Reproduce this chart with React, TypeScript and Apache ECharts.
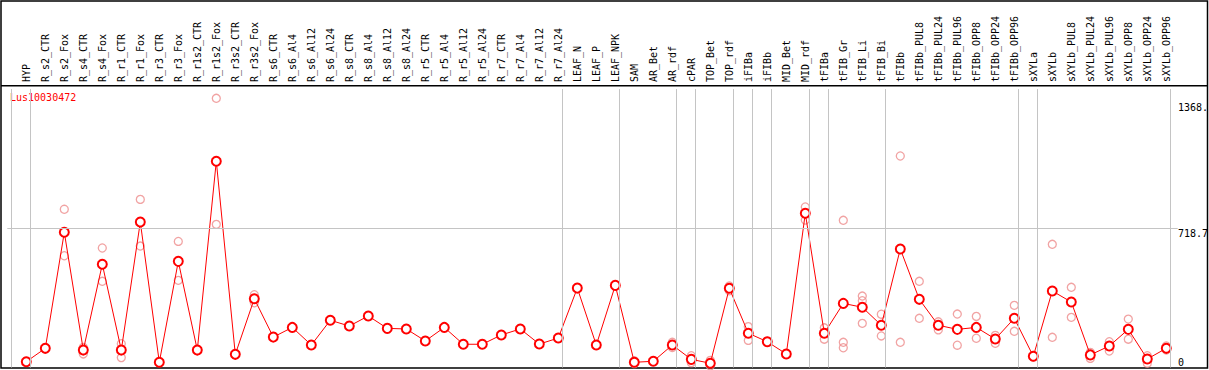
import { useEffect, useRef } from "react";
import * as echarts from "echarts";

const geneName = "Lus10030472";

const categories = [
  "HYP", "R_s2_CTR", "R_s2_Fox", "R_s4_CTR", "R_s4_Fox", "R_r1_CTR", "R_r1_Fox", "R_r3_CTR", "R_r3_Fox",
  "R_r1s2_CTR", "R_r1s2_Fox", "R_r3s2_CTR", "R_r3s2_Fox", "R_s6_CTR", "R_s6_Al4", "R_s6_Al12", "R_s6_Al24",
  "R_s8_CTR", "R_s8_Al4", "R_s8_Al12", "R_s8_Al24", "R_r5_CTR", "R_r5_Al4", "R_r5_Al12", "R_r5_Al24",
  "R_r7_CTR", "R_r7_Al4", "R_r7_Al12", "R_r7_Al24", "LEAF_N", "LEAF_P", "LEAF_NPK", "SAM", "AR_Bet", "AR_rdf",
  "cPAR", "TOP_Bet", "TOP_rdf", "iFIBa", "iFIBb", "MID_Bet", "MID_rdf", "tFIBa", "tFIB_Gr", "tFIB_Li", "tFIB_Bi",
  "tFIBb", "tFIBb_PUL8", "tFIBb_PUL24", "tFIBb_PUL96", "tFIBb_OPP8", "tFIBb_OPP24", "tFIBb_OPP96",
  "sXYLa", "sXYLb", "sXYLb_PUL8", "sXYLb_PUL24", "sXYLb_PUL96", "sXYLb_OPP8", "sXYLb_OPP24", "sXYLb_OPP96",
];

const meanValues = [
  30, 99, 698, 90, 533, 90, 751, 27, 548, 90, 1065, 68, 355, 157, 207,
  116, 244, 214, 266, 202, 199, 137, 207, 120, 120, 168, 199, 121, 152, 410, 116,
  424, 27, 32, 116, 42, 22, 409, 177, 133, 70, 796, 177, 331, 311, 218,
  612, 352, 218, 197, 207, 147, 254, 58, 395, 338, 65, 111, 197, 44, 99,
];

const replicateValues: number[][] = [
  [], [102, 96], [817, 577], [104, 70], [617, 445], [123, 51], [868, 627], [27, 27], [651, 450],
  [92, 88], [1390, 739], [70, 66], [376, 334], [], [], [], [], [], [], [], [], [], [], [], [], [], [], [], [], [], [],
  [], [35, 20], [], [130, 103], [61, 25], [37, 8], [421, 396], [211, 140], [135, 131], [72, 68], [829, 761],
  [205, 146], [760, 130, 102], [369, 345, 228], [275, 163],
  [1092, 130], [445, 254], [236, 194], [276, 115], [264, 151], [166, 125], [321, 187],
  [62, 54], [636, 156], [414, 259], [78, 47], [133, 85], [250, 146], [61, 22], [111, 90],
];

// index of the last category in each group (vertical separators)
const groupEnds = [-1, 0, 28, 31, 34, 35, 37, 38, 39, 41, 42, 45, 52, 53, 60];
const axisMax = 1437.4;
const midLine = 718.7;
const sideLabels = [
  { value: 1368, text: "1368." },
  { value: 718.7, text: "718.7" },
  { value: 0, text: "0" },
];

const FONT = "DejaVu Sans Mono";

export default function App() {
  const ref = useRef<HTMLDivElement>(null);
  useEffect(() => {
    document.body.style.margin = "0";
    const chart = echarts.init(ref.current!, null, { renderer: "svg" });
    const meanData = meanValues.map((v, i) => [i, v]);
    const repData: number[][] = [];
    replicateValues.forEach((arr, i) => arr.forEach((v) => repData.push([i, v])));

    chart.setOption({
      animation: false,
      grid: { left: 7.3, right: 31.3, top: 89.1, bottom: 2.5 },
      xAxis: {
        type: "value",
        position: "top",
        min: -1,
        max: 60.6,
        interval: 1,
        axisLine: { show: false },
        axisTick: { show: false },
        splitLine: { show: false },
        axisLabel: {
          rotate: 90,
          margin: 7,
          fontFamily: FONT,
          fontSize: 10,
          color: "#000",
          showMinLabel: false,
          showMaxLabel: false,
          formatter: (v: number) => categories[Math.round(v)] ?? "",
        },
      },
      yAxis: { type: "value", min: 0, max: axisMax, show: false },
      series: [
        {
          type: "line",
          data: [],
          silent: true,
          z: 1,
          markLine: {
            silent: true,
            symbol: "none",
            label: { show: false },
            lineStyle: { color: "#c4c4c4", type: "solid", width: 1 },
            data: [
              ...groupEnds.map((g) => ({ xAxis: g + 0.21 })),
              { yAxis: midLine },
            ],
          },
        },
        {
          type: "scatter",
          data: repData,
          symbol: "circle",
          symbolSize: 8,
          silent: true,
          z: 2,
          itemStyle: { color: "rgba(0,0,0,0)", borderColor: "#ee8c8c", borderWidth: 1.3 },
        },
        {
          type: "line",
          data: meanData,
          symbol: "emptyCircle",
          symbolSize: 9,
          silent: true,
          z: 3,
          lineStyle: { color: "#ff0000", width: 1 },
          itemStyle: { color: "#ff0000", borderWidth: 1.3 },
        },
      ],
    });

    const graphics: any[] = [
      {
        type: "rect",
        shape: { x: 1, y: 1, width: 1206.5, height: 367 },
        style: { fill: "none", stroke: "#000", lineWidth: 1.5 },
        silent: true,
      },
      {
        type: "line",
        shape: { x1: 1, y1: 85.7, x2: 1207.5, y2: 85.7 },
        style: { stroke: "#000", lineWidth: 1.5 },
        silent: true,
      },
      {
        type: "text",
        x: 10,
        y: 97.7,
        style: { text: geneName, fill: "#ff0000", font: `10px "${FONT}"`, verticalAlign: "middle" },
        silent: true,
      },
    ];
    sideLabels.forEach((s) => {
      const py = chart.convertToPixel({ yAxisIndex: 0 }, s.value) as number;
      graphics.push({
        type: "text",
        x: 1178,
        y: py,
        style: {
          text: s.text,
          fill: "#000",
          font: `10px "${FONT}"`,
          verticalAlign: s.value === 0 ? "bottom" : "top",
        },
        silent: true,
      });
    });
    chart.setOption({ graphic: graphics });

    return () => chart.dispose();
  }, []);
  return <div ref={ref} style={{ width: 1209, height: 370 }} />;
}
